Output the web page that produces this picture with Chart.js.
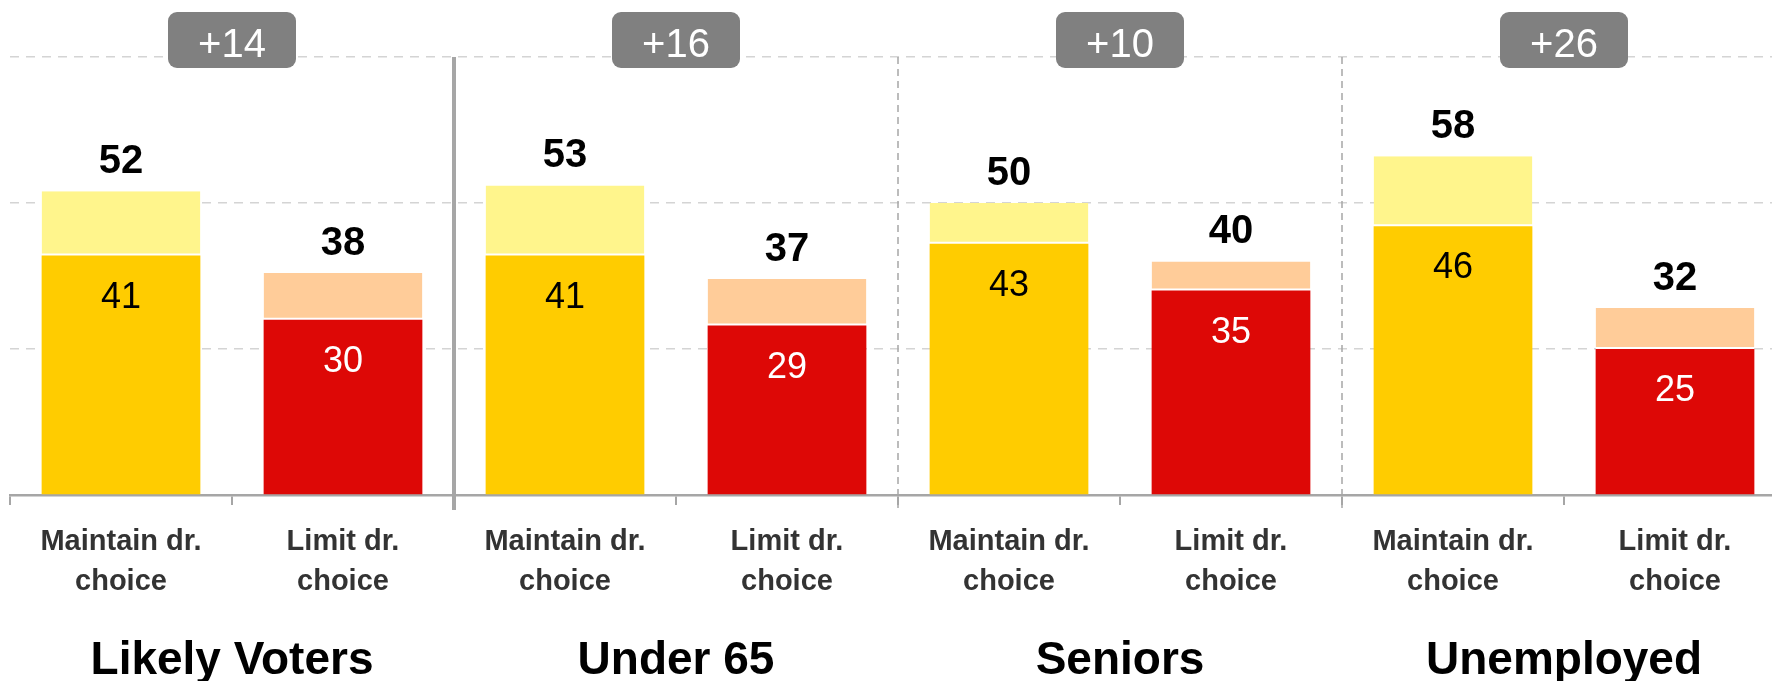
<!DOCTYPE html>
<html lang="en">
<head>
  <meta charset="UTF-8">
  <title>Maintain vs. limit doctor choice</title>
  <script src="https://cdn.jsdelivr.net/npm/chart.js"></script>
  <style>
    html, body { margin: 0; padding: 0; background: #fff; overflow: hidden; }
    #wrap { width: 1772px; height: 681px; overflow: hidden; }
  </style>
</head>
<body>
  <div id="wrap"><canvas id="chart" width="1786" height="681"></canvas></div>

  <script>
    // data
    const groups = ['Likely Voters', 'Under 65', 'Seniors', 'Unemployed'];
    const categories = [
      ['Maintain dr.', 'choice'], ['Limit dr.', 'choice'],
      ['Maintain dr.', 'choice'], ['Limit dr.', 'choice'],
      ['Maintain dr.', 'choice'], ['Limit dr.', 'choice'],
      ['Maintain dr.', 'choice'], ['Limit dr.', 'choice']
    ];
    const strongValues = [41, 30, 41, 29, 43, 35, 46, 25];
    const totalValues = [52, 38, 53, 37, 50, 40, 58, 32];
    const gaps = [14, 16, 10, 26];
    const yTicks = [0, 25, 50, 75];

    const FONT = '"Liberation Sans", Arial, sans-serif';

    const extraValues = totalValues.map((t, i) => t - strongValues[i]);

    const decorations = {
      id: 'decorations',
      beforeDatasetsDraw(chart) {
        const ctx = chart.ctx;
        const xs = chart.scales.x;
        const area = chart.chartArea;
        ctx.save();
        for (let k = 1; k < groups.length; k++) {
          const x = xs.getPixelForValue(2 * k - 0.5);
          ctx.beginPath();
          ctx.strokeStyle = '#a6a6a6';
          if (k === 1) {
            ctx.lineWidth = 4;
            ctx.setLineDash([]);
          } else {
            ctx.lineWidth = 1.5;
            ctx.setLineDash([7, 5]);
          }
          ctx.moveTo(x, area.top);
          ctx.lineTo(x, area.bottom + 15);
          ctx.stroke();
        }
        ctx.restore();
      },
      afterDatasetsDraw(chart) {
        const ctx = chart.ctx;
        const xs = chart.scales.x;
        const area = chart.chartArea;
        const base = chart.getDatasetMeta(0).data;
        const top = chart.getDatasetMeta(1).data;
        ctx.save();
        ctx.textAlign = 'center';
        ctx.textBaseline = 'alphabetic';

        base.forEach((bar, i) => {
          ctx.font = '36px ' + FONT;
          ctx.fillStyle = i % 2 ? '#ffffff' : '#000000';
          ctx.fillText(String(strongValues[i]), bar.x, bar.y + 52);
          ctx.font = 'bold 40px ' + FONT;
          ctx.fillStyle = '#000000';
          ctx.fillText(String(totalValues[i]), top[i].x, top[i].y - 18);
        });

        gaps.forEach((g, k) => {
          const cx = xs.getPixelForValue(2 * k + 0.5);
          const w = 128, h = 56, r = 9;
          const x0 = cx - w / 2, y0 = area.top - 45;
          ctx.beginPath();
          ctx.moveTo(x0 + r, y0);
          ctx.arcTo(x0 + w, y0, x0 + w, y0 + h, r);
          ctx.arcTo(x0 + w, y0 + h, x0, y0 + h, r);
          ctx.arcTo(x0, y0 + h, x0, y0, r);
          ctx.arcTo(x0, y0, x0 + w, y0, r);
          ctx.closePath();
          ctx.fillStyle = '#808080';
          ctx.fill();
          ctx.font = '40px ' + FONT;
          ctx.fillStyle = '#ffffff';
          ctx.fillText('+' + g, cx, area.top);

          ctx.font = 'bold 46px ' + FONT;
          ctx.fillStyle = '#000000';
          ctx.fillText(groups[k], cx, chart.height - 7);
        });
        ctx.restore();
      }
    };

    new Chart(document.getElementById('chart'), {
      type: 'bar',
      data: {
        labels: categories,
        datasets: [
          {
            label: 'Strongly',
            data: strongValues,
            backgroundColor: c => c.dataIndex % 2 ? '#dd0806' : '#ffcc00',
            borderWidth: 0,
            categoryPercentage: 1,
            barPercentage: 0.715
          },
          {
            label: 'Total',
            data: extraValues,
            backgroundColor: c => c.dataIndex % 2 ? '#ffcc99' : '#fff58c',
            borderColor: '#ffffff',
            borderWidth: { top: 0, left: 0, right: 0, bottom: 2 },
            borderSkipped: false,
            categoryPercentage: 1,
            barPercentage: 0.715
          }
        ]
      },
      options: {
        responsive: false,
        animation: false,
        layout: { padding: { top: 57, left: 10, right: 0, bottom: 62 } },
        plugins: {
          legend: { display: false },
          tooltip: { enabled: false }
        },
        scales: {
          x: {
            stacked: true,
            grid: {
              offset: true,
              drawOnChartArea: false,
              tickLength: 10,
              color: '#a6a6a6',
              lineWidth: 2
            },
            border: { color: '#a6a6a6', width: 2.5 },
            ticks: {
              color: '#333333',
              font: { family: FONT, size: 29, weight: 'bold', lineHeight: 1.38 },
              padding: 17,
              maxRotation: 0,
              autoSkip: false
            }
          },
          y: {
            stacked: true,
            min: 0,
            max: 75,
            afterBuildTicks: axis => { axis.ticks = yTicks.map(v => ({ value: v })); },
            grid: {
              color: c => c.tick.value === 0 ? 'rgba(0,0,0,0)' : '#d4d4d4',
              lineWidth: 1.5,
              drawTicks: false
            },
            border: { display: false, dash: [9, 7] },
            ticks: { display: false }
          }
        }
      },
      plugins: [decorations]
    });
  </script>
</body>
</html>
